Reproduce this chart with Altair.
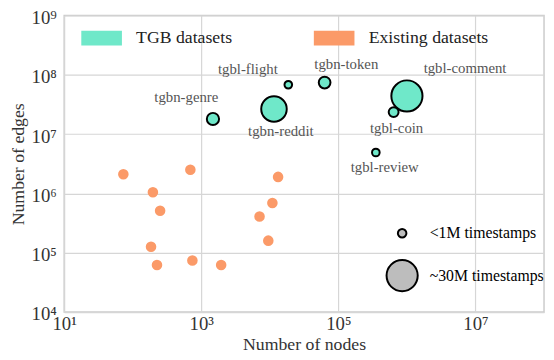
import altair as alt
import pandas as pd

# ---- data ----
tgb_names = ["tgbn-genre", "tgbn-reddit", "tgbl-flight", "tgbn-token",
             "tgbl-comment", "tgbl-coin", "tgbl-review"]
tgb_nodes = [1480, 11500, 18600, 63000, 1000000, 640000, 352000]
tgb_edges = [1.8e7, 2.65e7, 6.8e7, 7.4e7, 4.4e7, 2.35e7, 4.9e6]
tgb_timestamps_m = [3.0, 19.5, 0.001, 2.6, 30.0, 1.3, 0.007]

old_names = ["Social Evo.", "Contacts", "UN Vote", "UN Trade", "Enron",
             "US Legis.", "Can. Parl.", "UCI", "Flights", "Reddit",
             "MOOC", "Wikipedia"]
old_nodes = [73, 693, 197, 251, 185, 226, 742, 1950, 13200, 10900, 7080, 9500]
old_edges = [2.1e6, 2.5e6, 1.05e6, 5.1e5, 1.26e5, 6.2e4, 7.4e4, 6.2e4,
             1.9e6, 6.9e5, 4.1e5, 1.6e5]

group_names = ["TGB datasets", "Existing datasets"]
x_ticks = [1e1, 1e3, 1e5, 1e7]
y_ticks = [1e4, 1e5, 1e6, 1e7, 1e8, 1e9]

tgb = pd.DataFrame({"name": tgb_names, "nodes": tgb_nodes, "edges": tgb_edges,
                    "ts": tgb_timestamps_m, "group": group_names[0]})
old = pd.DataFrame({"name": old_names, "nodes": old_nodes, "edges": old_edges,
                    "group": group_names[1]})

# ---- style ----
FONT = "Liberation Serif"
TEAL = "#6fe8c9"
ORANGE = "#fb9a68"
# label offsets (pixels) relative to each bubble centre
LABEL_OFFSETS = {
    "tgbn-genre": (-27, -22), "tgbn-reddit": (7, 22), "tgbl-flight": (-41, -16),
    "tgbn-token": (22, -19), "tgbl-comment": (59, -28), "tgbl-coin": (3, 16),
    "tgbl-review": (9, 15),
}

sup = "['⁰','¹','²','³','⁴','⁵','⁶','⁷','⁸','⁹'][round(log(datum.value)/LN10)]"

xscale = alt.Scale(type="log", domain=[1e1, 1e8], nice=False)
yscale = alt.Scale(type="log", domain=[1e4, 1e9], nice=False)

X = alt.X("nodes:Q", scale=xscale,
          axis=alt.Axis(values=x_ticks, labelExpr="'10' + " + sup,
                        labelPadding=3, title="Number of nodes", titlePadding=2))
Y = alt.Y("edges:Q", scale=yscale,
          axis=alt.Axis(values=y_ticks, labelExpr="'10' + " + sup,
                        labelPadding=8, labelOffset=2,
                        title="Number of edges", titlePadding=4))

color = alt.Color("group:N",
                  scale=alt.Scale(domain=group_names, range=[TEAL, ORANGE]),
                  legend=alt.Legend(orient="none", legendX=17, legendY=2,
                                    direction="horizontal", title=None,
                                    symbolType="M-1,-0.364H1V0.364H-1Z",
                                    symbolSize=1700, symbolStrokeWidth=0,
                                    symbolOpacity=1,
                                    labelFontSize=18, labelOffset=14,
                                    columnPadding=82, labelColor="#222"))

old_layer = alt.Chart(old).mark_circle(size=115, opacity=1).encode(
    x=X, y=Y, color=color)

tgb_layer = alt.Chart(tgb).mark_point(filled=True, stroke="black",
                                      strokeWidth=2, opacity=1).encode(
    x=X, y=Y, color=color,
    size=alt.Size("ts:Q", scale=alt.Scale(domain=[0, 30], range=[60, 1000], zero=False),
                  legend=alt.Legend(orient="none", legendX=326, legendY=213,
                                    title=None, values=[0.5, 30],
                                    labelExpr="datum.value < 1 ? '<1M timestamps' : '~30M timestamps'",
                                    symbolFillColor="#bdbdbd", symbolStrokeColor="black",
                                    symbolStrokeWidth=2, symbolOpacity=1,
                                    labelFontSize=16, labelColor="black",
                                    rowPadding=14, labelOffset=11)),
    order=alt.Order("ts:Q", sort="descending"))

labels = []
for name, (dx, dy) in LABEL_OFFSETS.items():
    labels.append(
        alt.Chart(tgb).transform_filter(alt.datum.name == name)
        .mark_text(dx=dx, dy=dy, font=FONT, fontSize=15, color="#555555",
                   align="center", baseline="middle")
        .encode(x=X, y=Y, text="name:N"))

chart = alt.layer(old_layer, tgb_layer, *labels).properties(
    width=487, height=301,
    autosize=alt.AutoSizeParams(type="none"),
    padding={"left": 57, "top": 5, "right": 2, "bottom": 44},
).configure_view(stroke="#cccccc", strokeWidth=1.5).configure_axis(
    grid=True, gridColor="#d6d6d6", gridWidth=1.2, domain=False, ticks=False,
    labelFont=FONT, labelFontSize=19, labelColor="#333333",
    titleFont=FONT, titleFontSize=18, titleFontWeight="normal", titleColor="#333333",
    labelFlush=False, labelOverlap=False,
).configure_legend(labelFont=FONT, padding=0).resolve_legend(color="shared")

chart.save("out.html", embed_options={"renderer": "svg", "actions": False})
